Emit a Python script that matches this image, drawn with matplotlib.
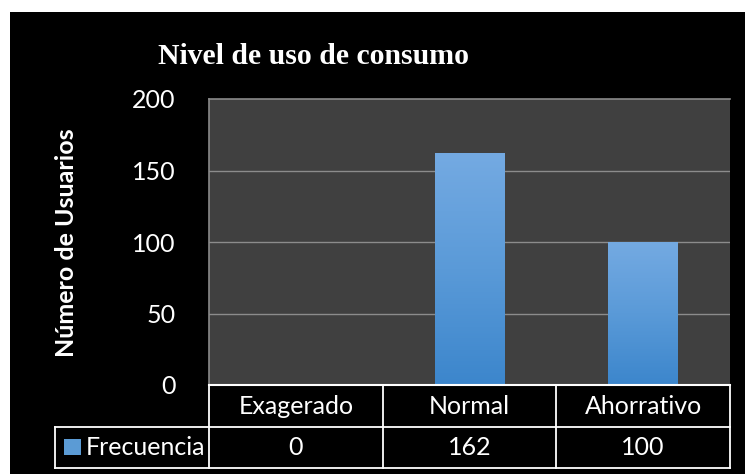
import matplotlib
matplotlib.use("Agg")
import matplotlib.pyplot as plt
import numpy as np
from matplotlib.patches import Rectangle

# data
categories = ["Exagerado", "Normal", "Ahorrativo"]
frecuencia = [0, 162, 100]
y_ticks = [0, 50, 100, 150, 200]
series_name = "Frecuencia"

W, H = 745, 474
fig = plt.figure(figsize=(W / 100, H / 100), dpi=100, facecolor="white")

# black chart background
fig.patches.append(Rectangle((10 / W, 0), 1, 1 - 12 / H, transform=fig.transFigure,
                             facecolor="black", edgecolor="none", zorder=-5))

FS = 18
left, right, top, bottom = 209, 730, 99, 385
ax = fig.add_axes([left / W, 1 - bottom / H, (right - left) / W, (bottom - top) / H])
ax.set_zorder(1)
ax.set_facecolor("#404040")
ax.set_xlim(-0.5, len(categories) - 0.5)
ax.set_ylim(0, 200)
ax.set_yticks(y_ticks)
ax.set_yticklabels([str(t) for t in y_ticks], color="white", fontsize=FS, family="Lato")
ax.set_xticks([])
ax.tick_params(axis="y", length=0, pad=24)
for s in ["top", "left"]:
    ax.spines[s].set_color("#8a8a8a")
    ax.spines[s].set_linewidth(1.2)
ax.spines["right"].set_visible(False)
ax.spines["bottom"].set_color("white")
ax.spines["bottom"].set_linewidth(1.5)
for t in y_ticks[1:-1]:
    ax.axhline(t, color="#8c8c8c", lw=1, zorder=1)

# gradient bars
grad = np.linspace(0, 1, 256).reshape(-1, 1)
cmap = matplotlib.colors.LinearSegmentedColormap.from_list(
    "bar", ["#3c86cc", "#5a9ad8", "#74aae2"])
bars = ax.bar(range(len(categories)), frecuencia, width=0.4, color="none", zorder=2)
for b in bars:
    if b.get_height() <= 0:
        continue
    x0, w, h = b.get_x(), b.get_width(), b.get_height()
    im = ax.imshow(grad, extent=(x0, x0 + w, 0, h), origin="lower", cmap=cmap,
                   aspect="auto", zorder=2)
    im.set_clip_path(b)
ax.set_xlim(-0.5, len(categories) - 0.5)
ax.set_ylim(0, 200)

# title and axis label
fig.text(314 / W, 1 - 56 / H, "Nivel de uso de consumo", color="white",
         fontsize=21.4, fontweight="bold", family="Liberation Serif",
         ha="center", va="center")
fig.text(66 / W, 1 - 243 / H, "Número de Usuarios", color="white", fontsize=FS,
         fontweight="bold", family="Lato", rotation=90, ha="center", va="center")

# data table
row1_y0, row1_y1, row2_y1, lab_x0 = 385, 427, 468, 55
def fy(py):
    return 1 - py / H
def fx(px):
    return px / W

col_w = (right - left) / len(categories)
lw = 1.3
fig.add_artist(plt.Line2D([fx(left), fx(right)], [fy(row1_y0)] * 2, color="white", lw=lw))
fig.add_artist(plt.Line2D([fx(lab_x0), fx(right)], [fy(row1_y1)] * 2, color="white", lw=lw))
fig.add_artist(plt.Line2D([fx(lab_x0), fx(right)], [fy(row2_y1)] * 2, color="white", lw=lw))
fig.add_artist(plt.Line2D([fx(lab_x0)] * 2, [fy(row1_y1), fy(row2_y1)], color="white", lw=lw))
for i in range(len(categories) + 1):
    xx = left + i * col_w
    fig.add_artist(plt.Line2D([fx(xx)] * 2, [fy(row1_y0), fy(row2_y1)], color="white", lw=lw))

for i, (c, v) in enumerate(zip(categories, frecuencia)):
    cx = left + (i + 0.5) * col_w
    fig.text(fx(cx), fy((row1_y0 + row1_y1) / 2), c, color="white", fontsize=FS,
             family="Lato", ha="center", va="center")
    fig.text(fx(cx), fy((row1_y1 + row2_y1) / 2), str(v), color="white", fontsize=FS,
             family="Lato", ha="center", va="center")

fig.patches.append(Rectangle((fx(64), fy(455)), 17 / W, 16 / H, transform=fig.transFigure,
                             facecolor="#5b9bd5", edgecolor="none"))
fig.text(fx(86), fy((row1_y1 + row2_y1) / 2), series_name, color="white", fontsize=FS,
         family="Lato", ha="left", va="center")

fig.savefig("out.png", dpi=100, facecolor="white")
